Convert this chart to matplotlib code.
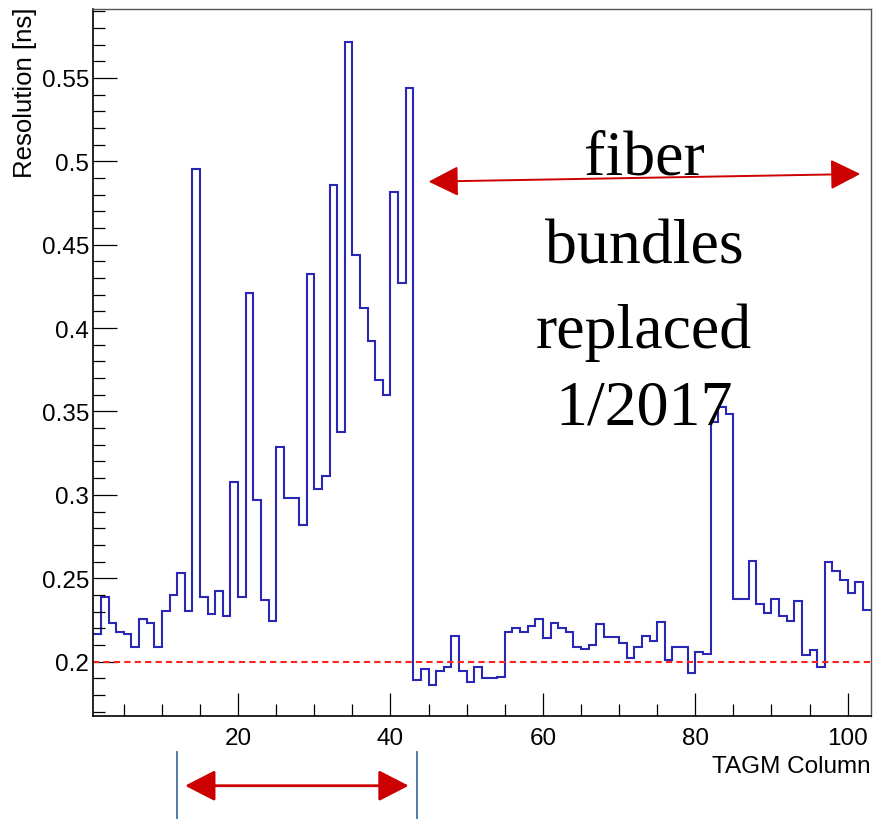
import numpy as np
import matplotlib
matplotlib.use("Agg")
import matplotlib.pyplot as plt
from matplotlib.patches import FancyArrowPatch
from matplotlib.transforms import blended_transform_factory
from matplotlib.ticker import MultipleLocator

# ---- data -------------------------------------------------------------
columns = np.arange(1, 103)          # TAGM columns 1..102
bin_edges = np.arange(1, 104)        # bin edges 1..103
resolution = [
    0.2166, 0.2390, 0.2232, 0.2178, 0.2166, 0.2086, 0.2256, 0.2232, 0.2086, 0.2302,
    0.2400, 0.2534, 0.2302, 0.4956, 0.2390, 0.2286, 0.2424, 0.2276, 0.3079, 0.2386,
    0.4212, 0.2970, 0.2368, 0.2246, 0.3289, 0.2980, 0.2980, 0.2821, 0.4324, 0.3035,
    0.3111, 0.4858, 0.3375, 0.5713, 0.4436, 0.4122, 0.3924, 0.3691, 0.3601, 0.4816,
    0.4269, 0.5438, 0.1890, 0.1956, 0.1862, 0.1942, 0.1966, 0.2156, 0.1946, 0.1876,
    0.1966, 0.1900, 0.1900, 0.1910, 0.2176, 0.2200, 0.2176, 0.2212, 0.2256, 0.2142,
    0.2232, 0.2200, 0.2178, 0.2086, 0.2076, 0.2100, 0.2226, 0.2146, 0.2146, 0.2112,
    0.2020, 0.2086, 0.2156, 0.2122, 0.2236, 0.2010, 0.2088, 0.2088, 0.1930, 0.2056,
    0.2044, 0.3435, 0.3525, 0.3485, 0.2376, 0.2376, 0.2606, 0.2346, 0.2290, 0.2376,
    0.2276, 0.2242, 0.2366, 0.2042, 0.2070, 0.1966, 0.2600, 0.2546, 0.2490, 0.2410,
    0.2476, 0.2310,
]
reference_level = 0.2
x_ticks = [20, 40, 60, 80, 100]
y_ticks = [0.2, 0.25, 0.3, 0.35, 0.4, 0.45, 0.5, 0.55]
y_tick_labels = ["0.2", "0.25", "0.3", "0.35", "0.4", "0.45", "0.5", "0.55"]
annotation_lines = ["fiber", "bundles", "replaced", "1/2017"]

# ---- figure -----------------------------------------------------------
plt.rcParams['font.family'] = ['Liberation Sans', 'DejaVu Sans']
fig = plt.figure(figsize=(8.78, 8.20), dpi=100)
ax = fig.add_axes([0.1063, 0.1260, 0.8852, 0.8618])

ax.stairs(resolution, bin_edges, baseline=None, color='#2828b4', lw=1.5)
ax.axhline(reference_level, color='#ff2020', lw=1.5, dashes=(3, 2))

ax.set_xlim(1, 103)
ax.set_ylim(0.1676, 0.5913)

ax.set_xticks(x_ticks)
ax.xaxis.set_minor_locator(MultipleLocator(5))
ax.set_yticks(y_ticks)
ax.set_yticklabels(y_tick_labels)
ax.yaxis.set_minor_locator(MultipleLocator(0.01))

ax.tick_params(axis='both', which='both', direction='in', top=False, right=False,
               labelsize=17.5, width=0.9, color='black')
ax.tick_params(axis='x', which='major', length=16.5, pad=8)
ax.tick_params(axis='x', which='minor', length=8.6)
ax.tick_params(axis='y', which='major', length=17, pad=3)
ax.tick_params(axis='y', which='minor', length=8.6)

for side in ('left', 'bottom'):
    ax.spines[side].set_color('black')
    ax.spines[side].set_linewidth(1.2)
for side in ('top', 'right'):
    ax.spines[side].set_color('#555555')
    ax.spines[side].set_linewidth(1.0)

ax.set_xlabel("TAGM Column", fontsize=17.5, loc='right')
ax.xaxis.set_label_coords(1.0, -0.0556)
ax.set_ylabel("Resolution [ns]", fontsize=18.5, loc='top')
ax.yaxis.set_label_coords(-0.072, 1.003)

# ---- annotations ------------------------------------------------------
serif = ['Liberation Serif', 'DejaVu Serif']
text_x = 73.3
text_baselines = [0.4924, 0.4394, 0.3885, 0.3425]
for line, yb in zip(annotation_lines, text_baselines):
    ax.text(text_x, yb, line, family=serif, fontsize=46, ha='center',
            va='baseline', color='black', zorder=5)

# upper double arrow (data coords)
up = FancyArrowPatch((45.0, 0.4878), (101.66, 0.4924),
                     arrowstyle='<|-|>,head_length=18.7,head_width=9.4',
                     mutation_scale=1, color='#cc0000', lw=1.4,
                     shrinkA=0, shrinkB=0, zorder=6)
ax.add_patch(up)

# lower markers below the axis
trans = blended_transform_factory(ax.transData, fig.transFigure)
for xv in (11.95, 43.44):
    fig.add_artist(plt.Line2D([xv, xv], [0.0, 0.0817], transform=trans,
                              color='#41719c', lw=1.3))
low = FancyArrowPatch((13.04, 0.0406), (42.39, 0.0406), transform=trans,
                      arrowstyle='<|-|>,head_length=18.7,head_width=9.6',
                      mutation_scale=1, color='#cc0000', lw=2.0,
                      shrinkA=0, shrinkB=0)
fig.add_artist(low)

fig.savefig("out.png", dpi=100)
